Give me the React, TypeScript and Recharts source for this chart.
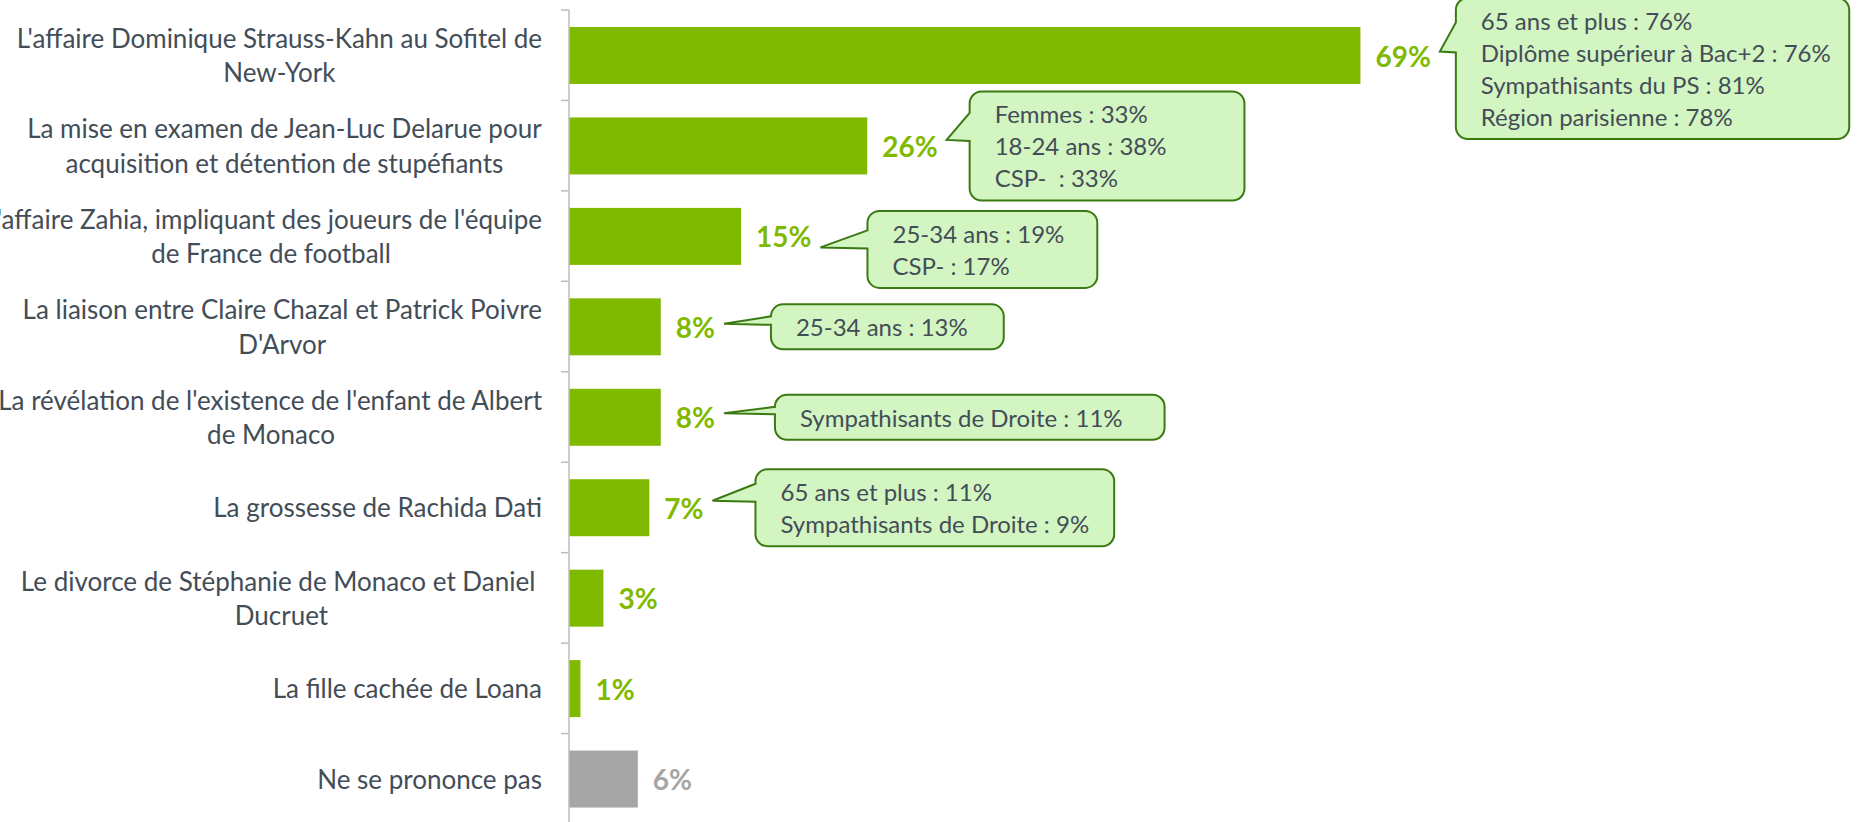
import React from 'react';
import {BarChart, Bar, XAxis, YAxis} from 'recharts';

// categories (line breaks as in the original slide)
const categories = [
    "L'affaire Dominique Strauss-Kahn au Sofitel de\nNew-York",
    'La mise en examen de Jean-Luc Delarue pour\nacquisition et détention de stupéfiants',
    "L'affaire Zahia, impliquant des joueurs de l'équipe\nde France de football",
    "La liaison entre Claire Chazal et Patrick Poivre\nD'Arvor",
    "La révélation de l'existence de l'enfant de Albert\nde Monaco",
    'La grossesse de Rachida Dati',
    'Le divorce de Stéphanie de Monaco et Daniel \nDucruet',
    'La fille cachée de Loana',
    'Ne se prononce pas',
];

const values = [69, 26, 15, 8, 8, 7, 3, 1, 6];

// over-represented groups shown in the bubbles
const subgroups = [
    ['65 ans et plus : 76%', 'Diplôme supérieur à Bac+2 : 76%', 'Sympathisants du PS : 81%', 'Région parisienne : 78%'],
    ['Femmes : 33%', '18-24 ans : 38%', 'CSP-  : 33%'],
    ['25-34 ans : 19%', 'CSP- : 17%'],
    ['25-34 ans : 13%'],
    ['Sympathisants de Droite : 11%'],
    ['65 ans et plus : 11%', 'Sympathisants de Droite : 9%'],
    [],
    [],
    [],
];

const data = categories.map((name, i) => ({name, value: values[i], groups: subgroups[i]}));

// bubble placement tweaks (gap from tip to box, vertical shift, tip shift, wedge base, right padding)
const bubbleLayout = [
    {gap: 16, dy: 13, tipDy: -4, base: 30, padR: 18},
    {gap: 23, dy: 0, tipDy: -6, base: 28, padR: 78},
    {gap: 47, dy: 13, tipDy: 11, base: 18, padR: 33},
    {gap: 47, dy: 0, tipDy: -3, base: 11, padR: 36},
    {gap: 51, dy: 0, tipDy: -4, base: 11, padR: 42},
    {gap: 43, dy: 0, tipDy: -7, base: 18, padR: 25},
];

const W = 1860;
const H = 822;
const MARGIN = {top: 10, right: 144, bottom: -2, left: 0};
const AXIS_X = 569;
const LABEL_RIGHT = 542;
const BAND = (H - MARGIN.top - MARGIN.bottom) / categories.length;

const GREEN = '#7FBA00';
const GREY = '#A6A6A6';
const AXIS = '#BDBDBD';
const TEXT = '#434D58';
const BUBBLE_FILL = '#D3F5C1';
const BUBBLE_STROKE = '#3B7A12';

const FAMILY = 'Lato, "Open Sans", sans-serif';
const CAT_SIZE = 26;
const CAT_LINE = 34.4;
const VALUE_SIZE = 28;
const BUBBLE_SIZE = 24;
const BUBBLE_LINE = 32;

let ctx: CanvasRenderingContext2D | null = null;
const measure = (text: string, size: number, weight = 400) => {
    if (!ctx) ctx = document.createElement('canvas').getContext('2d');
    if (!ctx) return text.length * size * 0.5;
    ctx.font = `${weight} ${size}px ${FAMILY}`;
    return ctx.measureText(text).width;
};

const CategoryTick = (props: any) => {
    const {y, payload} = props;
    const lines = String(payload.value).split('\n');
    const widths = lines.map((l) => measure(l, CAT_SIZE));
    const block = Math.min(Math.max(...widths), LABEL_RIGHT);
    const center = LABEL_RIGHT - block / 2;
    const top = y - ((lines.length - 1) * CAT_LINE) / 2;
    return (
        <g>
            <line x1={AXIS_X - 8} x2={AXIS_X} y1={y - BAND / 2} y2={y - BAND / 2} stroke={AXIS} strokeWidth={1.5}/>
            {lines.map((l, i) => {
                const wide = widths[i] > block;
                return (
                    <text key={i} x={wide ? LABEL_RIGHT : center} y={top + i * CAT_LINE}
                          textAnchor={wide ? 'end' : 'middle'} dominantBaseline="central"
                          fontFamily={FAMILY} fontSize={CAT_SIZE} fill={TEXT} style={{whiteSpace: 'pre'}}>
                        {l}
                    </text>
                );
            })}
        </g>
    );
};

const bubblePath = (bx: number, top: number, w: number, h: number, tipX: number, tipY: number, base: number) => {
    const r = 12;
    const b2 = Math.min(tipY + 1, top + h - r);
    const b1 = Math.max(b2 - base, top + r);
    return [
        `M${bx + r},${top}`,
        `H${bx + w - r}`,
        `A${r},${r} 0 0 1 ${bx + w},${top + r}`,
        `V${top + h - r}`,
        `A${r},${r} 0 0 1 ${bx + w - r},${top + h}`,
        `H${bx + r}`,
        `A${r},${r} 0 0 1 ${bx},${top + h - r}`,
        `V${b2}`,
        `L${tipX},${tipY}`,
        `L${bx},${b1}`,
        `V${top + r}`,
        `A${r},${r} 0 0 1 ${bx + r},${top}`,
        'Z',
    ].join(' ');
};

const BarWithNotes = (props: any) => {
    const {x, y, width, height, index, payload} = props;
    const grey = index === categories.length - 1;
    const color = grey ? GREY : GREEN;
    const cy = y + height / 2;
    const labelX = x + width + 15;
    const label = `${payload.value}%`;
    const labelW = measure(label, VALUE_SIZE, 700);
    const groups: string[] = payload.groups || [];
    const lay = bubbleLayout[index];

    let bubble = null;
    if (groups.length && lay) {
        const tipX = labelX + labelW + 9;
        const tipY = cy + lay.tipDy;
        const bx = tipX + lay.gap;
        const textW = Math.max(...groups.map((g) => measure(g, BUBBLE_SIZE)));
        const bw = 25 + textW + lay.padR;
        const bh = groups.length * BUBBLE_LINE + 13;
        const top = cy + lay.dy - bh / 2;
        bubble = (
            <g>
                <path d={bubblePath(bx, top, bw, bh, tipX, tipY, lay.base)} fill={BUBBLE_FILL}
                      stroke={BUBBLE_STROKE} strokeWidth={2}/>
                {groups.map((g, i) => (
                    <text key={i} x={bx + 25} y={top + 6.5 + BUBBLE_LINE / 2 + i * BUBBLE_LINE}
                          dominantBaseline="central" fontFamily={FAMILY} fontSize={BUBBLE_SIZE} fill={TEXT}
                          style={{whiteSpace: 'pre'}}>
                        {g}
                    </text>
                ))}
            </g>
        );
    }

    return (
        <g>
            <rect x={x} y={y} width={width} height={height} fill={color}/>
            <text x={labelX} y={cy} dominantBaseline="central" fontFamily={FAMILY} fontSize={VALUE_SIZE}
                  fontWeight={700} fill={color}>
                {label}
            </text>
            {bubble}
        </g>
    );
};

export default function App() {
    return (
        <div style={{position: 'absolute', left: 0, top: 0, width: W, height: H, overflow: 'hidden', background: '#fff'}}>
            <BarChart width={W} height={H} data={data} layout="vertical" margin={MARGIN}>
                <XAxis type="number" domain={[0, 100]} hide/>
                <YAxis type="category" dataKey="name" width={AXIS_X} interval={0} tickLine={false}
                       axisLine={{stroke: AXIS, strokeWidth: 1.5}} tick={<CategoryTick/>}/>
                <Bar dataKey="value" barSize={57} shape={<BarWithNotes/>} isAnimationActive={false}/>
            </BarChart>
        </div>
    );
}
